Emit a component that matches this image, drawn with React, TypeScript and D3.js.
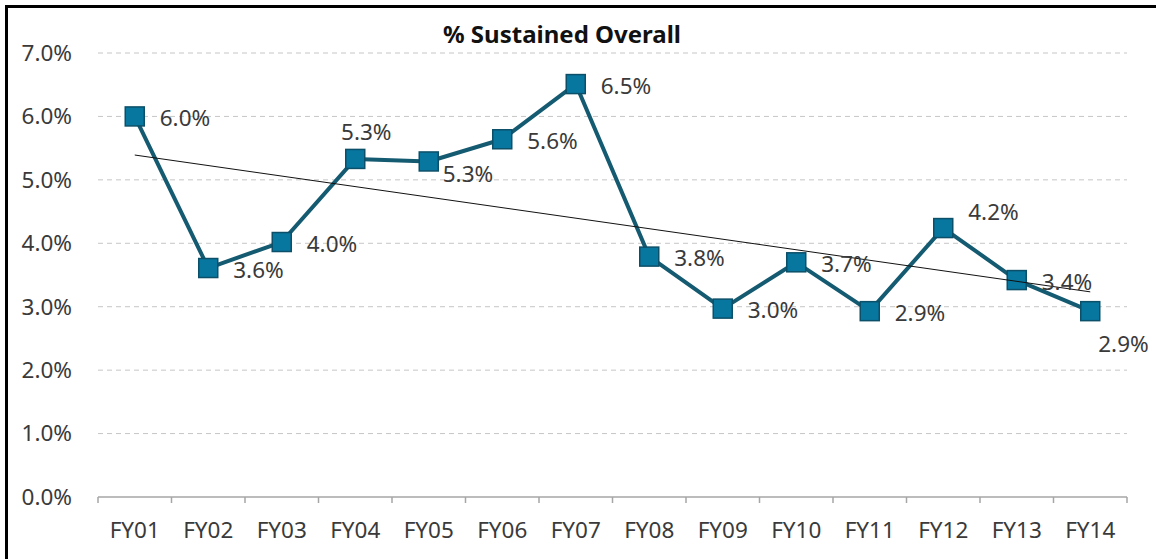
import React from "react";
import * as d3 from "d3";

// fiscal years and % sustained
const categories = ["FY01", "FY02", "FY03", "FY04", "FY05", "FY06", "FY07", "FY08", "FY09", "FY10", "FY11", "FY12", "FY13", "FY14"];
const sustained = [6.0, 3.61, 4.02, 5.33, 5.29, 5.64, 6.51, 3.79, 2.97, 3.7, 2.93, 4.24, 3.42, 2.93];
const yTicks = [0, 1, 2, 3, 4, 5, 6, 7];
// where each data label sits relative to its marker
const labelPlacement = ["right", "right", "right", "above", "rightBelow", "right", "right", "right", "right", "right", "right", "rightAbove", "right", "belowRight"];

const title = "% Sustained Overall";

const W = 1156;
const H = 559;
const margin = { top: 53, right: 29, bottom: 62, left: 98 };

const FONT = "'Noto Sans', sans-serif";
const TEXT = "#3a3a3a";
const LINE = "#145a71";
const MARKER_FILL = "#0777a0";
const MARKER_STROKE = "#0c4f68";

const offsets: Record<string, { dx: number; dy: number; anchor: string }> = {
  right: { dx: 25, dy: 2, anchor: "start" },
  above: { dx: 11, dy: -27, anchor: "middle" },
  rightBelow: { dx: 14, dy: 13, anchor: "start" },
  rightAbove: { dx: 25, dy: -16, anchor: "start" },
  belowRight: { dx: 8, dy: 33, anchor: "start" },
};

const App = () => {
  const x = d3.scaleBand().domain(categories).range([margin.left, W - margin.right]);
  const y = d3.scaleLinear().domain([0, 7]).range([H - margin.bottom, margin.top]);
  const cx = (i: number) => (x(categories[i]) as number) + x.bandwidth() / 2;

  const pts = sustained.map((v, i) => [cx(i), y(v)] as [number, number]);
  const line = d3.line();

  // linear trendline (least squares on category index)
  const idx = sustained.map((_, i) => i + 1);
  const mx = d3.mean(idx) as number;
  const my = d3.mean(sustained) as number;
  const slope =
    d3.sum(idx, (xi, i) => (xi - mx) * (sustained[i] - my)) / d3.sum(idx, (xi) => (xi - mx) ** 2);
  const trend = (xi: number) => my + slope * (xi - mx);
  const last = sustained.length - 1;

  const boundaries = categories.map((c) => x(c) as number).concat([W - margin.right]);
  const x0 = margin.left;
  const x1 = W - margin.right;
  const yBase = y(0);

  return (
    <svg width={W} height={H} style={{ position: "absolute", left: 0, top: 0, background: "#fff" }}>
      <rect x={6.5} y={6.5} width={W + 20} height={H + 20} fill="#fff" stroke="#000" strokeWidth={3} />

      {/* gridlines */}
      {yTicks.filter((t) => t > 0).map((t) => (
        <line key={t} x1={x0} x2={x1} y1={y(t)} y2={y(t)} stroke="#c6c6c6" strokeWidth={1} strokeDasharray="5,4" />
      ))}

      {/* y labels */}
      {yTicks.map((t) => (
        <text key={t} x={72} y={y(t)} dy="0.35em" textAnchor="end" fontFamily={FONT} fontSize={22.5} fill={TEXT}>
          {t.toFixed(1) + "%"}
        </text>
      ))}

      {/* x axis */}
      <line x1={x0} x2={x1} y1={yBase} y2={yBase} stroke="#a6a6a6" strokeWidth={1.5} />
      {boundaries.map((b, i) => (
        <line key={i} x1={b} x2={b} y1={yBase} y2={yBase + 6} stroke="#a6a6a6" strokeWidth={1.5} />
      ))}
      {categories.map((c, i) => (
        <text key={c} x={cx(i)} y={530} dy="0.35em" textAnchor="middle" fontFamily={FONT} fontSize={22.5} fill={TEXT}>
          {c}
        </text>
      ))}

      {/* series */}
      <path d={line(pts) as string} fill="none" stroke={LINE} strokeWidth={4} strokeLinejoin="round" />
      {pts.map(([px, py], i) => (
        <rect key={i} x={px - 9.5} y={py - 9.5} width={19} height={19} fill={MARKER_FILL} stroke={MARKER_STROKE} strokeWidth={1.5} />
      ))}

      {/* trendline */}
      <line x1={cx(0)} x2={cx(last)} y1={y(trend(1))} y2={y(trend(last + 1))} stroke="#111" strokeWidth={1} />

      {/* data labels */}
      {pts.map(([px, py], i) => {
        const o = offsets[labelPlacement[i]];
        return (
          <text key={i} x={px + o.dx} y={py + o.dy} dy="0.35em" textAnchor={o.anchor} fontFamily={FONT} fontSize={22.5} fill={TEXT}>
            {sustained[i].toFixed(1) + "%"}
          </text>
        );
      })}

      <text x={562} y={35} dy="0.35em" textAnchor="middle" fontFamily={FONT} fontSize={24} fontWeight="bold" fill="#111">
        {title}
      </text>
    </svg>
  );
};

export default App;
